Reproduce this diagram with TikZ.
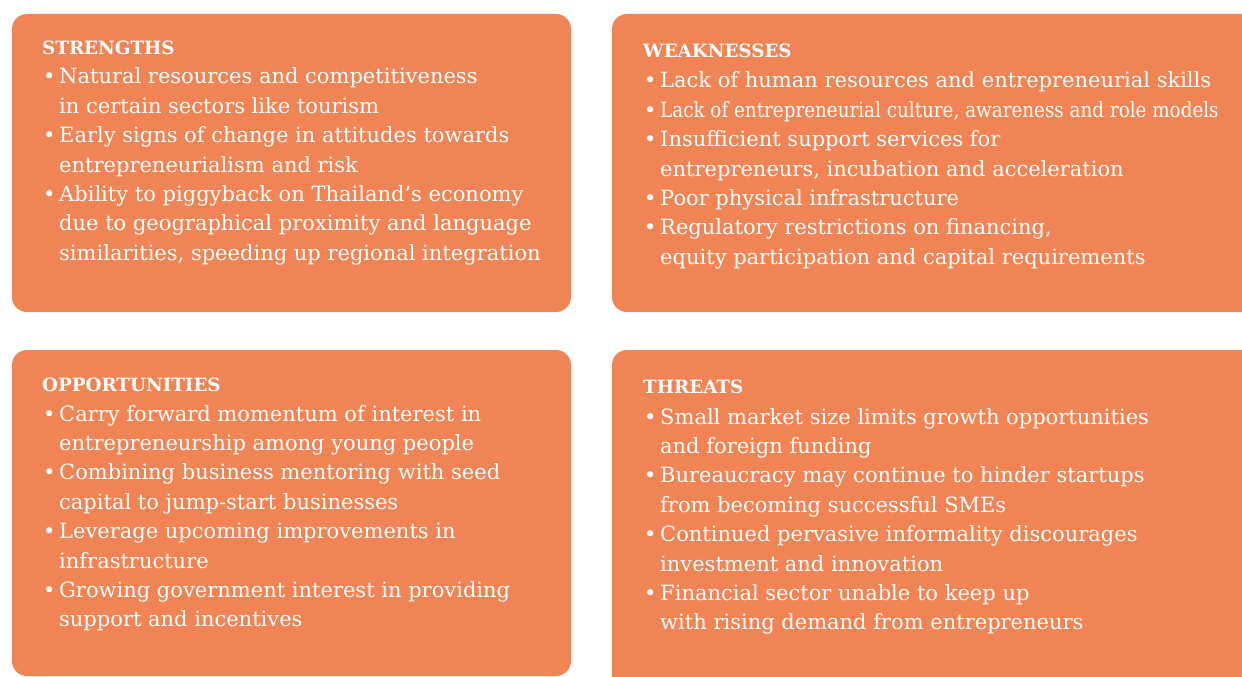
\documentclass[tikz,border=0pt]{standalone}
\usepackage{fontspec}
\setmainfont{DejaVu Serif}
\newfontfamily\headfont{DejaVu Serif}
\definecolor{swotorange}{RGB}{240,132,85}
\newcommand{\bul}{\makebox[16pt][l]{\textbullet}}
\newcommand{\ind}{\hspace*{16pt}}
\newcommand{\bodyfont}{\fontsize{21}{29.4}\selectfont}
\tikzset{
  swotbox/.style={fill=swotorange, draw=none, rounded corners=15pt, inner sep=0pt},
  swothead/.style={anchor=base west, inner sep=0pt, text=white, font=\headfont\bfseries\fontsize{18.3}{22}\selectfont},
  swotbody/.style={anchor=base west, inner sep=0pt, text=white}
}
\begin{document}
\begin{tikzpicture}[x=1pt,y=-1pt]
\useasboundingbox (0,0) rectangle (1242,677);
\clip (0,0) rectangle (1242,677);
% boxes
\node[swotbox, minimum width=559pt, minimum height=298pt] (tl) at (291.5,163) {};
\node[swotbox, minimum width=663pt, minimum height=298pt] (tr) at (943.5,163) {};
\node[swotbox, minimum width=559pt, minimum height=326pt] (bl) at (291.5,513) {};
\node[swotbox, minimum width=663pt, minimum height=360pt] (br) at (943.5,530) {};
% headings
\node[swothead] (tlh) at (42,55) {STRENGTHS};
\node[swothead] (trh) at (643,57.5) {WEAKNESSES};
\node[swothead] (blh) at (42,391.5) {OPPORTUNITIES};
\node[swothead] (brh) at (643,393) {THREATS};
% bodies
\node[swotbody] (tlb) at (43,84) {\begin{minipage}[t]{520pt}\bodyfont\raggedright
\bul Natural resources and competitiveness\\
\ind in certain sectors like tourism\\
\bul Early signs of change in attitudes towards\\
\ind entrepreneurialism and risk\\
\bul Ability to piggyback on Thailand’s economy\\
\ind due to geographical proximity and language\\
\ind similarities, speeding up regional integration
\end{minipage}};
\node[swotbody] (trb) at (644,88) {\begin{minipage}[t]{600pt}\bodyfont\raggedright
\bul Lack of human resources and entrepreneurial skills\\
\bul \scalebox{0.873}[1]{Lack of entrepreneurial culture, awareness and role models}\\
\bul Insufficient support services for\\
\ind entrepreneurs, incubation and acceleration\\
\bul Poor physical infrastructure\\
\bul Regulatory restrictions on financing,\\
\ind equity participation and capital requirements
\end{minipage}};
\node[swotbody] (blb) at (43,421) {\begin{minipage}[t]{520pt}\bodyfont\raggedright
\bul Carry forward momentum of interest in\\
\ind entrepreneurship among young people\\
\bul Combining business mentoring with seed\\
\ind capital to jump-start businesses\\
\bul Leverage upcoming improvements in\\
\ind infrastructure\\
\bul Growing government interest in providing\\
\ind support and incentives
\end{minipage}};
\node[swotbody] (brb) at (644,424) {\begin{minipage}[t]{600pt}\bodyfont\raggedright
\bul Small market size limits growth opportunities\\
\ind and foreign funding\\
\bul Bureaucracy may continue to hinder startups\\
\ind from becoming successful SMEs\\
\bul Continued pervasive informality discourages\\
\ind investment and innovation\\
\bul Financial sector unable to keep up\\
\ind with rising demand from entrepreneurs
\end{minipage}};
\end{tikzpicture}
\end{document}
